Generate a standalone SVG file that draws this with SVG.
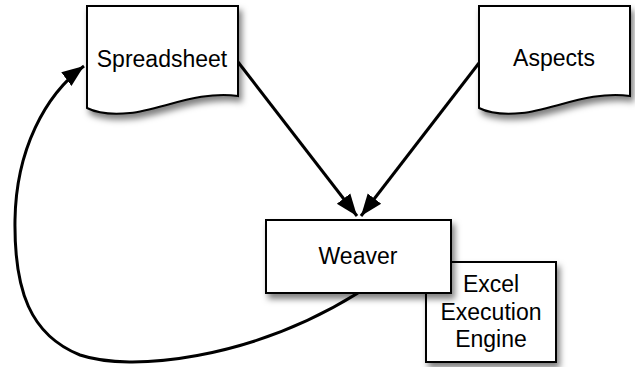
<svg xmlns="http://www.w3.org/2000/svg" width="635" height="367" viewBox="0 0 635 367">
<style>
.shape{fill:#fff;stroke:#000;stroke-width:2;filter:url(#sh)}
.lbl{font-family:"Liberation Sans",Arial,Helvetica,sans-serif;font-size:23px;fill:#000;text-anchor:middle}
.conn{fill:none;stroke:#000;stroke-width:3;marker-end:url(#ah)}
</style>
<defs>
<filter id="sh" x="-20%" y="-20%" width="150%" height="150%">
<feDropShadow dx="3" dy="5" stdDeviation="3" flood-color="#000" flood-opacity="0.5"/>
</filter>
<marker id="ah" markerUnits="userSpaceOnUse" markerWidth="24" markerHeight="20" viewBox="0 0 24 20" refX="22" refY="10" orient="auto">
<path d="M0,1.5 L22,10 L0,18.5 Z" fill="#000"/>
</marker>
</defs>
<g id="connectors">
<path class="conn" d="M238,62 L357,216"/>
<path class="conn" d="M479,63 L361,216"/>
<path class="conn" d="M358,293 C250,360 130,372 80,355 C30,335 14,290 15,220 C16,150 45,95 84,66"/>
</g>
<g id="excel">
<rect class="shape" x="426" y="262" width="130" height="100"/>
<text class="lbl" x="491" y="292">Excel</text>
<text class="lbl" x="491" y="320">Execution</text>
<text class="lbl" x="491" y="347">Engine</text>
</g>
<g id="weaver">
<rect class="shape" x="266" y="220" width="185" height="73"/>
<text class="lbl" x="358" y="264">Weaver</text>
</g>
<g id="spreadsheet">
<path class="shape" d="M87,6 L238,6 L238,96 C200,90 160,110 130,113 C110,115 95,112 87,108 Z"/>
<text class="lbl" x="162" y="67">Spreadsheet</text>
</g>
<g id="aspects">
<path class="shape" d="M479,6 L630,6 L630,96 C592,90 552,110 522,113 C502,115 487,112 479,108 Z"/>
<text class="lbl" x="554" y="66">Aspects</text>
</g>
</svg>
